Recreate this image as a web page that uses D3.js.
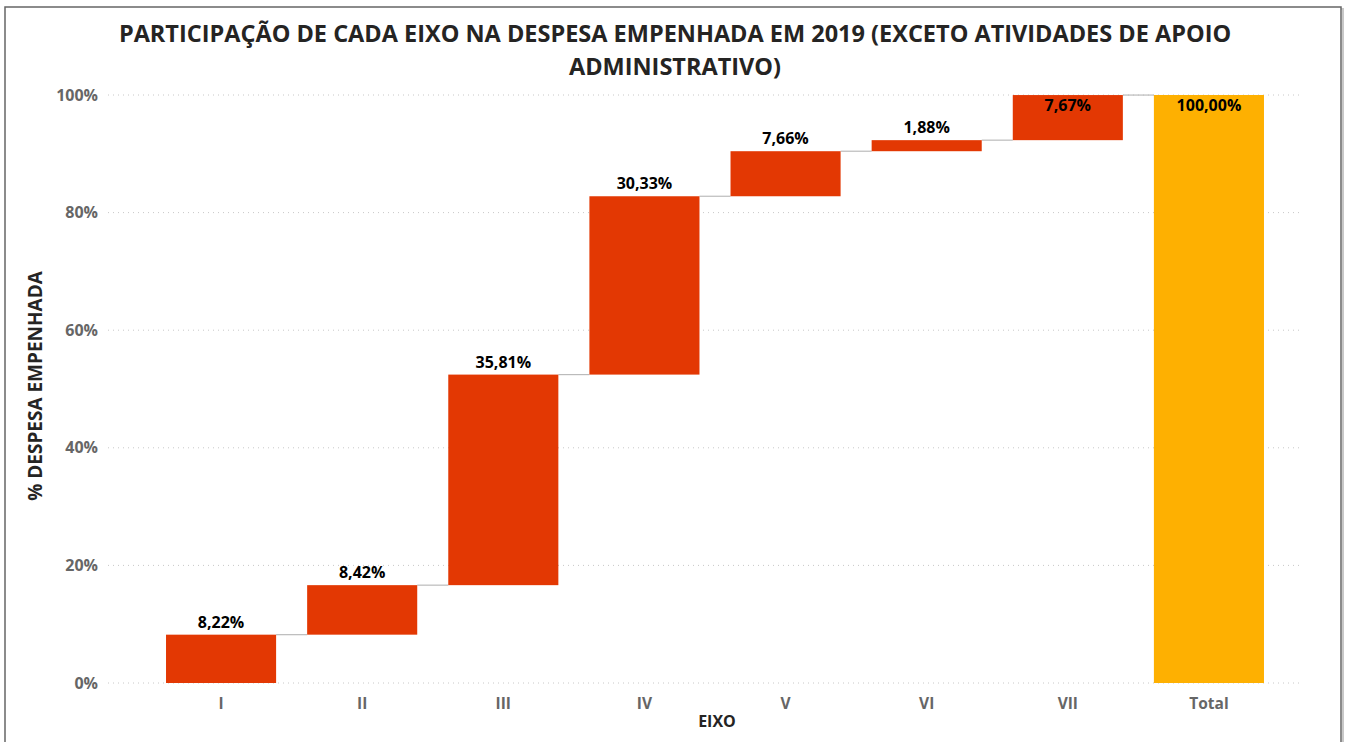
<!DOCTYPE html>
<html>
<head>
<meta charset="utf-8">
<script src="https://cdn.jsdelivr.net/npm/d3@7"></script>
<style>
  body { margin: 0; background: #fff; }
  svg { display: block; font-family: "Open Sans", "Noto Sans", sans-serif; }
</style>
</head>
<body>
<svg id="chart" width="1349" height="742"></svg>
<script>
// dados do gráfico
const eixos = ['I', 'II', 'III', 'IV', 'V', 'VI', 'VII'];
const participacao = [8.22, 8.42, 35.81, 30.33, 7.66, 1.88, 7.67];
const totalLabel = 'Total';
const totalValue = 100.0;
const yTicks = [0, 20, 40, 60, 80, 100];

const svg = d3.select('#chart');

// moldura do visual
svg.append('rect')
  .attr('x', 7).attr('y', 9).attr('width', 1336).attr('height', 740)
  .attr('fill', 'none').attr('stroke', '#c8c8c8').attr('stroke-width', 2);
svg.append('rect')
  .attr('x', 5).attr('y', 7).attr('width', 1336).attr('height', 740)
  .attr('fill', '#fff').attr('stroke', '#666').attr('stroke-width', 1.5);

// titulo
const title = svg.append('text')
  .attr('text-anchor', 'middle')
  .attr('font-size', 23.5)
  .attr('font-weight', 700)
  .attr('fill', '#252423');
title.append('tspan').attr('x', 675).attr('y', 42)
  .text('PARTICIPAÇÃO DE CADA EIXO NA DESPESA EMPENHADA EM 2019 (EXCETO ATIVIDADES DE APOIO');
title.append('tspan').attr('x', 675).attr('y', 75)
  .text('ADMINISTRATIVO)');

// montar os degraus da cascata
let acc = 0;
const steps = eixos.map((e, i) => {
  const start = acc;
  acc += participacao[i];
  return { cat: e, value: participacao[i], start, end: acc, total: false };
});
steps.push({ cat: totalLabel, value: totalValue, start: 0, end: totalValue, total: true });

const x = d3.scaleBand()
  .domain(steps.map(d => d.cat))
  .range([150.5, 1279.5])
  .paddingInner(0.22)
  .paddingOuter(0.11);

const y = d3.scaleLinear().domain([0, 100]).range([683, 95]);

const fmt = v => d3.format('.2f')(v).replace('.', ',') + '%';

// grade pontilhada
svg.append('g')
  .selectAll('line')
  .data(yTicks)
  .join('line')
  .attr('x1', 108).attr('x2', 1300)
  .attr('y1', d => y(d)).attr('y2', d => y(d))
  .attr('stroke', '#c8c8c8')
  .attr('stroke-width', 1)
  .attr('stroke-dasharray', '1 4');

// eixo y
const yAxis = svg.append('g')
  .attr('transform', 'translate(98,0)')
  .call(d3.axisLeft(y).tickValues(yTicks).tickSize(0).tickPadding(0).tickFormat(d => d + '%'));
yAxis.select('.domain').remove();
yAxis.selectAll('text')
  .attr('font-family', '"Open Sans", sans-serif')
  .attr('font-size', 16)
  .attr('font-weight', 700)
  .attr('fill', '#666');

// eixo x
const xAxis = svg.append('g')
  .attr('transform', 'translate(0,683)')
  .call(d3.axisBottom(x).tickSize(0).tickPadding(15));
xAxis.select('.domain').remove();
xAxis.selectAll('text')
  .attr('font-family', '"Open Sans", sans-serif')
  .attr('font-size', 15.5)
  .attr('font-weight', 700)
  .attr('fill', '#666');

// titulos dos eixos
svg.append('text')
  .attr('x', 717).attr('y', 727)
  .attr('text-anchor', 'middle')
  .attr('font-size', 16).attr('font-weight', 700).attr('fill', '#252423')
  .text('EIXO');
svg.append('text')
  .attr('transform', `translate(42,${(y(0) + y(100)) / 2 - 3}) rotate(-90)`)
  .attr('text-anchor', 'middle')
  .attr('font-size', 19).attr('font-weight', 700).attr('fill', '#252423')
  .text('% DESPESA EMPENHADA');

// linhas de ligação entre barras
svg.append('g')
  .selectAll('line')
  .data(steps.slice(0, -1))
  .join('line')
  .attr('x1', d => x(d.cat) + x.bandwidth())
  .attr('x2', (d, i) => x(steps[i + 1].cat))
  .attr('y1', d => y(d.end)).attr('y2', d => y(d.end))
  .attr('stroke', '#bbb')
  .attr('stroke-width', 1.2);

// barras
svg.append('g')
  .selectAll('rect')
  .data(steps)
  .join('rect')
  .attr('x', d => x(d.cat))
  .attr('width', x.bandwidth())
  .attr('y', d => y(Math.max(d.start, d.end)))
  .attr('height', d => Math.abs(y(d.start) - y(d.end)))
  .attr('fill', d => d.total ? '#feb001' : '#e33803');

// rótulos de dados
svg.append('g')
  .selectAll('text')
  .data(steps)
  .join('text')
  .attr('x', d => x(d.cat) + x.bandwidth() / 2)
  .attr('y', d => d.end >= 99 ? y(d.end) + 16 : y(d.end) - 7)
  .attr('text-anchor', 'middle')
  .attr('font-size', 16)
  .attr('font-weight', 700)
  .attr('fill', '#000')
  .text(d => fmt(d.value));
</script>
</body>
</html>
